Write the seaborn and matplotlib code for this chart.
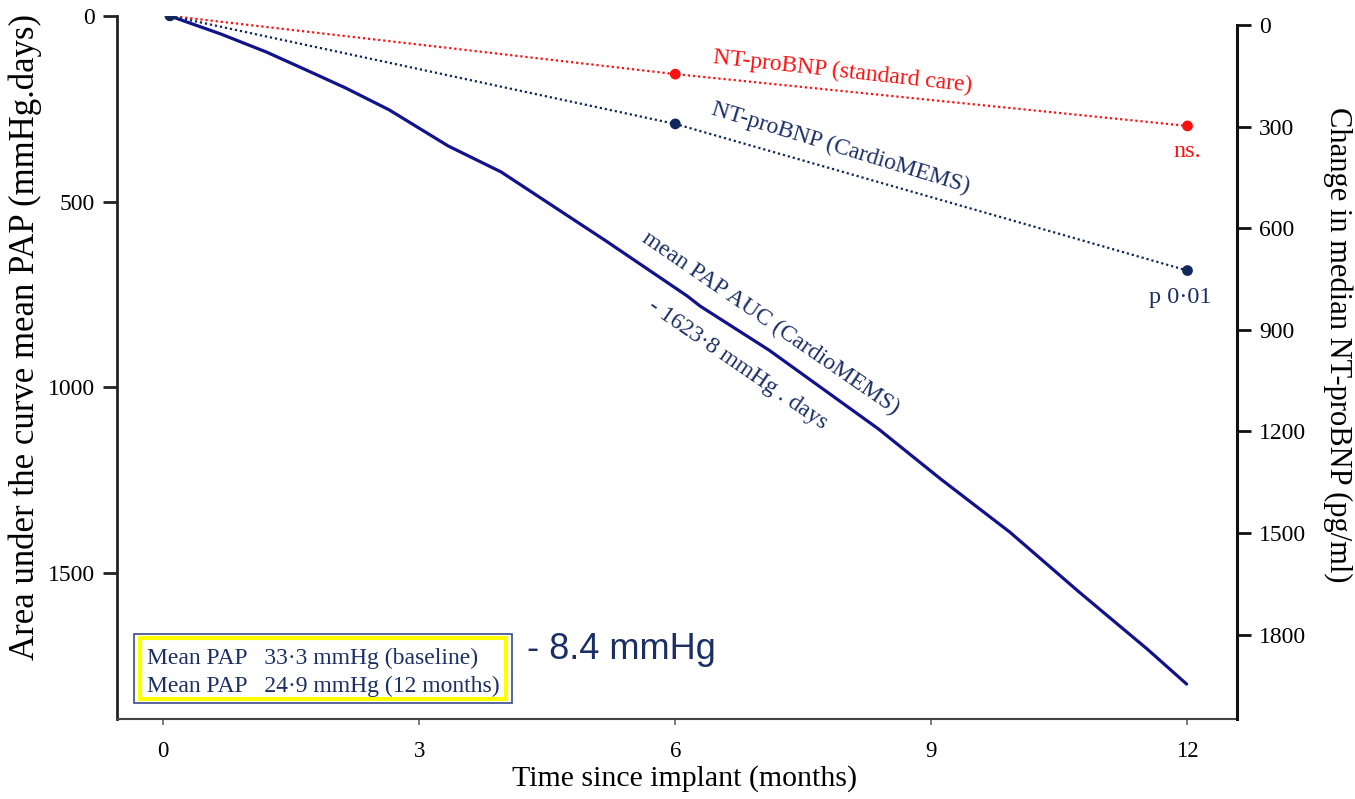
import matplotlib
matplotlib.use("Agg")
import matplotlib.pyplot as plt
import seaborn as sns
import pandas as pd
from matplotlib.patches import Rectangle

# ---- data ----
auc_months = [0.08, 0.67, 1.21, 1.73, 2.14, 2.65, 3.34, 3.96, 4.37, 5.19, 6.14,
              6.29, 7.10, 8.38, 9.11, 9.92, 10.73, 11.53, 11.99]
auc_values = [0, 48, 97, 151, 194, 253, 350, 420, 482, 606, 754,
              781, 900, 1112, 1247, 1390, 1551, 1705, 1799]

bnp_months = [0.08, 6.0, 12.0]
bnp_standard = [-27, 145, 298]
bnp_cardiomems = [-27, 292, 725]

x_ticks = [0, 3, 6, 9, 12]
left_ticks = [0, 500, 1000, 1500]
right_ticks = [0, 300, 600, 900, 1200, 1500, 1800]

RED = "#ff1010"
NAVY_TXT = "#1b2f66"
NAVY_DOT = "#10285a"
LINE_BLUE = "#12128c"

sns.set_theme(style="white")
plt.rcParams["font.family"] = ["Liberation Serif", "DejaVu Serif"]
plt.rcParams["text.color"] = "black"
plt.rcParams["axes.labelcolor"] = "black"
plt.rcParams["xtick.color"] = "black"
plt.rcParams["ytick.color"] = "black"

fig = plt.figure(figsize=(13.55, 7.99), dpi=100)
ax = fig.add_axes([117/1355, 1-719/799, 1120/1355, 703/799])
ax.set_facecolor("white")
ax2 = ax.twinx()

auc_df = pd.DataFrame({"month": auc_months, "auc": auc_values})
sns.lineplot(data=auc_df, x="month", y="auc", ax=ax, color=LINE_BLUE, linewidth=2.3)

bnp_df = pd.DataFrame({"month": bnp_months, "std": bnp_standard, "cm": bnp_cardiomems})
sns.lineplot(data=bnp_df, x="month", y="std", ax=ax2, color=RED, linewidth=1.6,
             linestyle=(0, (1, 1.3)))
sns.lineplot(data=bnp_df, x="month", y="cm", ax=ax2, color=NAVY_DOT, linewidth=1.6,
             linestyle=(0, (1, 1.3)))
sns.scatterplot(data=bnp_df.iloc[1:], x="month", y="std", ax=ax2, color=RED, s=60,
                edgecolor="none", zorder=5)
sns.scatterplot(data=bnp_df, x="month", y="cm", ax=ax2, color=NAVY_DOT, s=60,
                edgecolor="none", zorder=6)

# axes limits
ax.set_xlim(-0.54, 12.58)
ax.set_ylim(1893, 0)
ax2.set_ylim(2049, -26.6)

ax.set_xticks(x_ticks)
ax.set_xticklabels([str(t) for t in x_ticks], fontsize=16.5)
ax.set_yticks(left_ticks)
ax.set_yticklabels([str(t) for t in left_ticks], fontsize=17)
ax2.set_yticks(right_ticks)
ax2.set_yticklabels([str(t) for t in right_ticks], fontsize=17)

ax.set_xlabel("Time since implant (months)", fontsize=21.5, color="black")
ax.xaxis.set_label_coords(0.507, -0.066)
ax.set_ylabel("Area under the curve mean PAP (mmHg.days)", fontsize=25, color="black")
ax.yaxis.set_label_coords(-0.067, 0.543)
ax2.set_ylabel("Change in median NT-proBNP (pg/ml)", fontsize=22, rotation=270,
               color="black")
ax2.yaxis.set_label_coords(1.1027, 0.532)

for a in (ax, ax2):
    a.spines["top"].set_visible(False)
    a.grid(False)
ax2.spines["left"].set_visible(False)
ax2.spines["bottom"].set_visible(False)
ax.spines["right"].set_visible(False)
ax.spines["left"].set_color("#222222")
ax.spines["left"].set_linewidth(2)
ax.spines["bottom"].set_color("#444444")
ax.spines["bottom"].set_linewidth(1.5)
ax2.spines["right"].set_color("#111111")
ax2.spines["right"].set_linewidth(2.2)
ax2.spines["right"].set_bounds(0, 2049)

ax.tick_params(axis="y", direction="out", length=10, width=2, color="#222222",
               labelcolor="black", left=True, pad=6)
ax.tick_params(axis="x", direction="out", length=4, width=1.2, color="#666666",
               labelcolor="black", bottom=True, pad=12)
ax2.tick_params(axis="y", direction="out", length=10, width=2, color="#111111",
                labelcolor="black", right=True, pad=6)

# annotations
ax2.text(7.96, 139, "NT-proBNP (standard care)", color=RED, fontsize=17,
         rotation=-6.3, ha="center", va="center")
ax2.text(7.94, 363, "NT-proBNP (CardioMEMS)", color=NAVY_TXT, fontsize=17,
         rotation=-17, ha="center", va="center")
ax2.text(12.0, 372, "ns.", color=RED, fontsize=17.5, ha="center", va="center")
ax2.text(11.91, 806, "p 0·01", color=NAVY_TXT, fontsize=17.5, ha="center", va="center")
ax.text(7.11, 827, "mean PAP AUC (CardioMEMS)", color=NAVY_TXT, fontsize=17,
        rotation=-34.5, ha="center", va="center")
ax.text(6.73, 940, "- 1623·8 mmHg . days", color=NAVY_TXT, fontsize=17,
        rotation=-34.5, ha="center", va="center")
ax.text(5.37, 1707, "- 8.4 mmHg", color=NAVY_TXT, fontsize=26,
        family=["Liberation Sans", "DejaVu Sans"], ha="center", va="center")

# boxed note
ax.add_patch(Rectangle((0.0152, 0.0228), 0.3375, 0.0981, transform=ax.transAxes,
                       facecolor="white", edgecolor="#3a4a8a", linewidth=1.2, zorder=7))
ax.add_patch(Rectangle((0.0205, 0.0285), 0.3268, 0.0867, transform=ax.transAxes,
                       facecolor="none", edgecolor="#ffff00", linewidth=3, zorder=8))
ax.text(0.0268, 0.0868, "Mean PAP   33·3 mmHg (baseline)", transform=ax.transAxes,
        color=NAVY_TXT, fontsize=17, ha="left", va="center", zorder=9)
ax.text(0.0268, 0.0469, "Mean PAP   24·9 mmHg (12 months)", transform=ax.transAxes,
        color=NAVY_TXT, fontsize=17, ha="left", va="center", zorder=9)

fig.savefig("out.png", dpi=100, facecolor="white")
